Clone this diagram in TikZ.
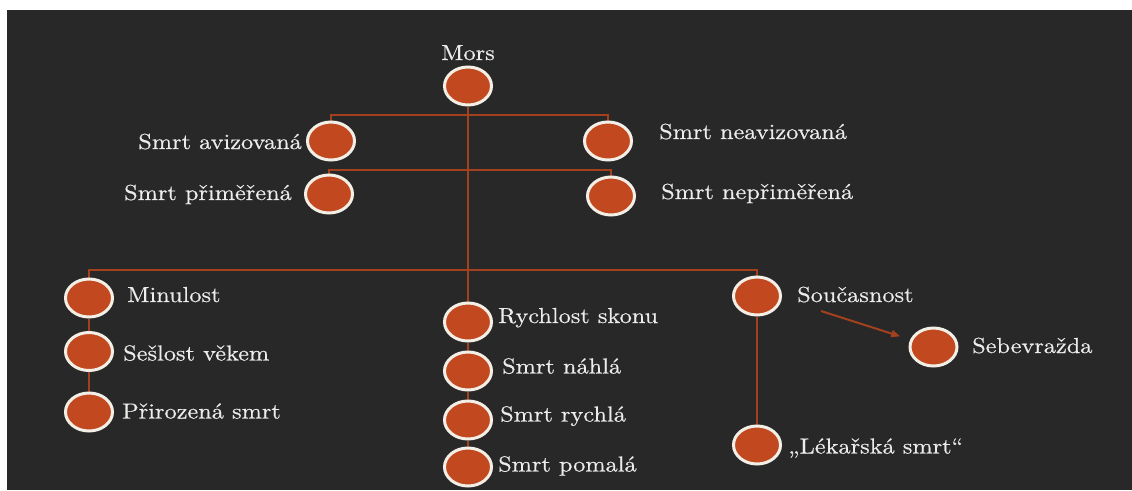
\documentclass[tikz,border=0pt]{standalone}
\usepackage{fontspec}
\setmainfont{lmroman10-regular}[Extension=.otf,FakeStretch=1.12,FakeBold=0.5]
\usetikzlibrary{shapes.geometric,arrows.meta,calc}
\definecolor{bgdark}{HTML}{282828}
\definecolor{rust}{HTML}{A3411F}
\definecolor{dotfill}{HTML}{C2481F}
\definecolor{dotline}{HTML}{F3EFE6}
\definecolor{textc}{HTML}{ECECEC}
\pgfdeclarelayer{back}
\pgfdeclarelayer{lines}
\pgfsetlayers{back,lines,main}
\tikzset{
  dot/.style={ellipse, fill=dotfill, draw=dotline, line width=3pt,
    minimum width=47pt, minimum height=38pt, inner sep=0pt},
  txt/.style={text=textc, inner sep=0pt, font=\fontsize{21.7}{24}\selectfont},
  conn/.style={draw=rust, line width=2.2pt},
  arrowline/.style={draw=rust, line width=2pt, -{Triangle[length=9pt,width=7pt]}, shorten >=10.5pt}
}
\begin{document}
\begin{tikzpicture}[x=1pt,y=-1pt]
\useasboundingbox (0,0) rectangle (1132,490);
\begin{pgfonlayer}{back}
  \fill[white] (0,0) rectangle (1132,490);
  \fill[bgdark] (7,10) rectangle (1132,490);
\end{pgfonlayer}

% circles
\node[dot] (mors)   at (468,86) {};
\node[dot] (avi)    at (331,141) {};
\node[dot] (pri)    at (329,194) {};
\node[dot] (neavi)  at (608,141) {};
\node[dot] (nepri)  at (611,196) {};
\node[dot] (minul)  at (89,298) {};
\node[dot] (sesl)   at (89,351.5) {};
\node[dot] (priroz) at (89,412) {};
\node[dot] (rych)   at (468,322) {};
\node[dot] (nahla)  at (468,371) {};
\node[dot] (rychla) at (468,420) {};
\node[dot] (pomala) at (468,467) {};
\node[dot] (sou)    at (757,296) {};
\node[dot] (sebe)   at (933.5,347) {};
\node[dot] (lek)    at (757,445) {};

% labels
\node[txt, anchor=base] (morst) at (468,60) {Mors};
\node[txt, anchor=base east] (avit) at (302,149) {Smrt avizovaná};
\node[txt, anchor=base east] (prit) at (292,200) {Smrt přiměřená};
\node[txt, anchor=base west] (neavit) at (659,139) {Smrt neavizovaná};
\node[txt, anchor=base west] (neprit) at (661,199) {Smrt nepřiměřená};
\node[txt, anchor=base west] (minult) at (127,302) {Minulost};
\node[txt, anchor=base west] (seslt) at (123,360.5) {Sešlost věkem};
\node[txt, anchor=base west] (prirozt) at (122,418.5) {Přirozená smrt};
\node[txt, anchor=base west] (rycht) at (498,323) {Rychlost skonu};
\node[txt, anchor=base west] (nahlat) at (502,373.5) {Smrt náhlá};
\node[txt, anchor=base west] (rychlat) at (500,421.5) {Smrt rychlá};
\node[txt, anchor=base west] (pomalat) at (498,471.5) {Smrt pomalá};
\node[txt, anchor=base west] (sout) at (797,302) {Současnost};
\node[txt, anchor=base west] (sebet) at (972,353) {Sebevražda};
\node[txt, anchor=base west] (lekt) at (788,453.5) {„Lékařská smrt“};

% connectors
\coordinate (bar1) at (468,115);
\coordinate (bar2) at (468,170);
\coordinate (bar3) at (468,270);
\coordinate (astart) at (821,311);
\begin{pgfonlayer}{lines}
  \draw[conn] (mors) -- (rych);
  \draw[conn] (avi.north) |- (bar1) -| (neavi.north);
  \draw[conn] (pri.north) |- (bar2) -| (nepri.north);
  \draw[conn] (minul.north) |- (bar3) -| (sou.north);
  \draw[conn] (minul) -- (sesl) -- (priroz);
  \draw[conn] (rych) -- (nahla) -- (rychla) -- (pomala);
  \draw[conn] (sou) -- (lek);
\end{pgfonlayer}
\draw[arrowline] (astart) -- (sebe);
\end{tikzpicture}
\end{document}
